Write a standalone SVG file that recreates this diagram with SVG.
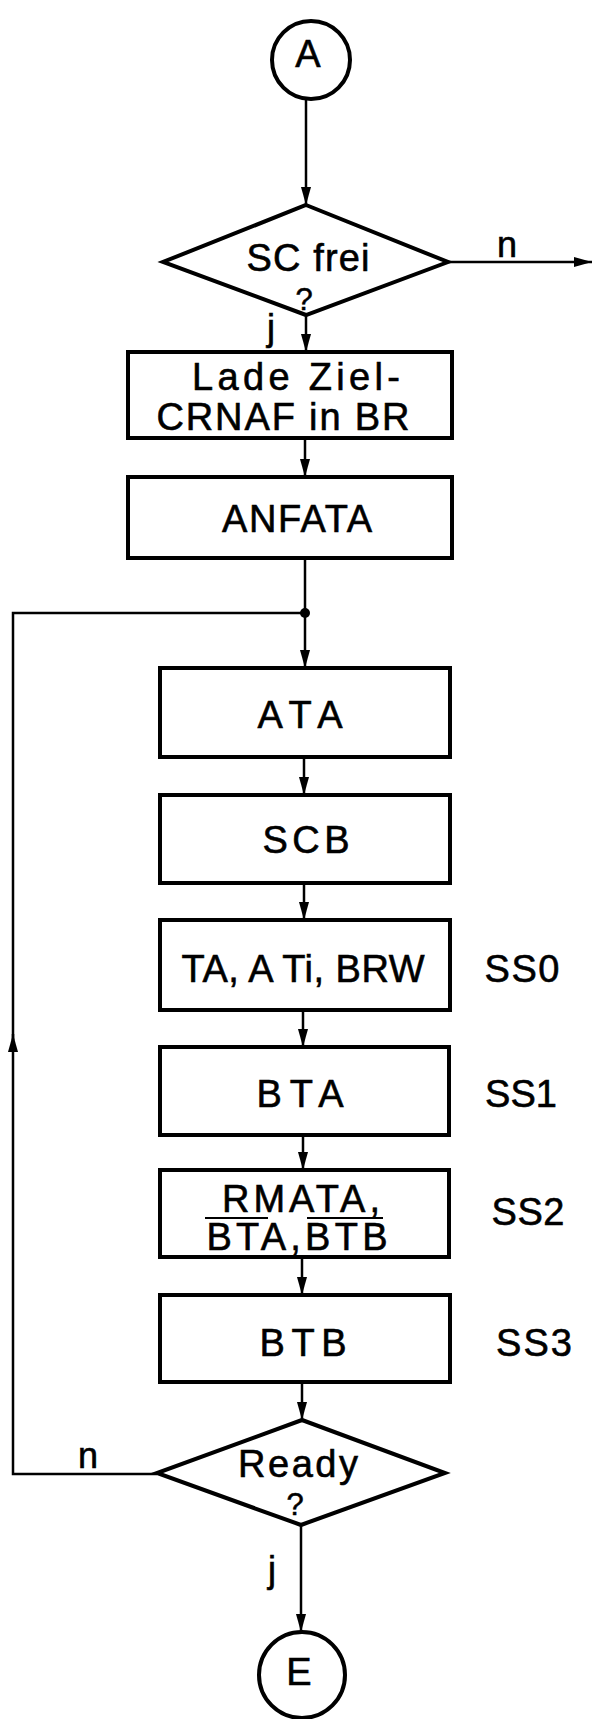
<svg xmlns="http://www.w3.org/2000/svg" width="593" height="1719" viewBox="0 0 593 1719">
<style>
  .box { fill: #fff; stroke: #000; stroke-width: 4; }
  .con { fill: none; stroke: #000; stroke-width: 2.5; }
  .t { font-family: "Liberation Sans", Arial, sans-serif; font-size: 38px; fill: #000; stroke: #000; stroke-width: 0.6; text-anchor: middle; }
  .q { font-family: "Liberation Sans", Arial, sans-serif; font-size: 31px; fill: #000; stroke: #000; stroke-width: 0.5; text-anchor: middle; }
  .lbl { font-family: "Liberation Sans", Arial, sans-serif; font-size: 36px; fill: #000; stroke: #000; stroke-width: 0.6; }
</style>
<defs>
  <marker id="arr" markerUnits="userSpaceOnUse" markerWidth="18" markerHeight="10" refX="18" refY="5" orient="auto">
    <path d="M0,0 L18,5 L0,10 z" fill="#000"/>
  </marker>
</defs>
<rect width="593" height="1719" fill="#fff"/>

<g id="connectors">
  <line class="con" x1="306" y1="100" x2="306" y2="205" marker-end="url(#arr)"/>
  <line class="con" x1="448" y1="262" x2="592" y2="262" marker-end="url(#arr)"/>
  <line class="con" x1="306" y1="315" x2="306" y2="352" marker-end="url(#arr)"/>
  <line class="con" x1="305" y1="438" x2="305" y2="477" marker-end="url(#arr)"/>
  <line class="con" x1="305" y1="558" x2="305" y2="668" marker-end="url(#arr)"/>
  <line class="con" x1="304" y1="757" x2="304" y2="795" marker-end="url(#arr)"/>
  <line class="con" x1="304" y1="883" x2="304" y2="920" marker-end="url(#arr)"/>
  <line class="con" x1="303" y1="1010" x2="303" y2="1047" marker-end="url(#arr)"/>
  <line class="con" x1="303" y1="1135" x2="303" y2="1170" marker-end="url(#arr)"/>
  <line class="con" x1="302" y1="1257" x2="302" y2="1295" marker-end="url(#arr)"/>
  <line class="con" x1="302" y1="1382" x2="302" y2="1420" marker-end="url(#arr)"/>
  <line class="con" x1="301" y1="1525" x2="301" y2="1632" marker-end="url(#arr)"/>
  <polyline class="con" points="157,1474 13,1474 13,1034" marker-end="url(#arr)"/>
  <polyline class="con" points="13,1040 13,613 305,613"/>
  <circle cx="305" cy="613" r="5" fill="#000"/>
  <text class="lbl" x="497" y="257">n</text>
  <text class="lbl" x="267" y="340">j</text>
  <text class="lbl" x="78" y="1468">n</text>
  <text class="lbl" x="268" y="1582">j</text>
</g>

<g id="start">
  <circle cx="311" cy="60" r="39" fill="#fff" stroke="#000" stroke-width="4"/>
  <text class="t" x="308" y="67" font-size="36">A</text>
</g>

<g id="sc-frei">
  <polygon class="box" points="306,205 448,262 306,315 163,262"/>
  <text class="t" x="308" y="271" textLength="123" lengthAdjust="spacing">SC frei</text>
  <text class="q" x="304" y="310">?</text>
</g>

<g id="lade">
  <rect class="box" x="128" y="352" width="324" height="86"/>
  <text class="t" x="296" y="390" font-size="37" textLength="208" lengthAdjust="spacing">Lade Ziel-</text>
  <text class="t" x="283" y="430" font-size="37" textLength="253" lengthAdjust="spacing">CRNAF in BR</text>
</g>

<g id="anfata">
  <rect class="box" x="128" y="477" width="324" height="81"/>
  <text class="t" x="297" y="532" textLength="150" lengthAdjust="spacing">ANFATA</text>
</g>

<g id="ata">
  <rect class="box" x="160" y="668" width="290" height="89"/>
  <text class="t" x="300" y="728" textLength="85" lengthAdjust="spacing">ATA</text>
</g>

<g id="scb">
  <rect class="box" x="160" y="795" width="290" height="88"/>
  <text class="t" x="306" y="853" textLength="87" lengthAdjust="spacing">SCB</text>
</g>

<g id="ta">
  <rect class="box" x="160" y="920" width="290" height="90"/>
  <text class="t" x="303" y="982" textLength="243" lengthAdjust="spacing">TA, A Ti, BRW</text>
  <text class="t" x="522" y="982" textLength="75" lengthAdjust="spacing">SS0</text>
</g>

<g id="bta">
  <rect class="box" x="160" y="1047" width="289" height="88"/>
  <text class="t" x="300" y="1107" textLength="87" lengthAdjust="spacing">BTA</text>
  <text class="t" x="521" y="1107" font-size="36">SS1</text>
</g>

<g id="rmata">
  <rect class="box" x="160" y="1170" width="289" height="87"/>
  <text class="t" x="301" y="1212" font-size="37" textLength="158" lengthAdjust="spacing">RMATA,</text>
  <text class="t" x="297" y="1250" font-size="37" textLength="181" lengthAdjust="spacing">BTA,BTB</text>
  <line x1="205" y1="1218" x2="268" y2="1218" stroke="#000" stroke-width="2"/>
  <line x1="307" y1="1218" x2="383" y2="1218" stroke="#000" stroke-width="2"/>
  <text class="t" x="528" y="1225" textLength="73" lengthAdjust="spacing">SS2</text>
</g>

<g id="btb">
  <rect class="box" x="160" y="1295" width="290" height="87"/>
  <text class="t" x="303" y="1356" textLength="87" lengthAdjust="spacing">BTB</text>
  <text class="t" x="534" y="1356" textLength="76" lengthAdjust="spacing">SS3</text>
</g>

<g id="ready">
  <polygon class="box" points="302,1420 445,1473 301,1525 157,1473"/>
  <text class="t" x="298" y="1477" textLength="120" lengthAdjust="spacing">Ready</text>
  <text class="q" x="295" y="1515">?</text>
</g>

<g id="end">
  <circle cx="302" cy="1675" r="43" fill="#fff" stroke="#000" stroke-width="4"/>
  <text class="t" x="299" y="1685" font-size="36">E</text>
</g>
</svg>
